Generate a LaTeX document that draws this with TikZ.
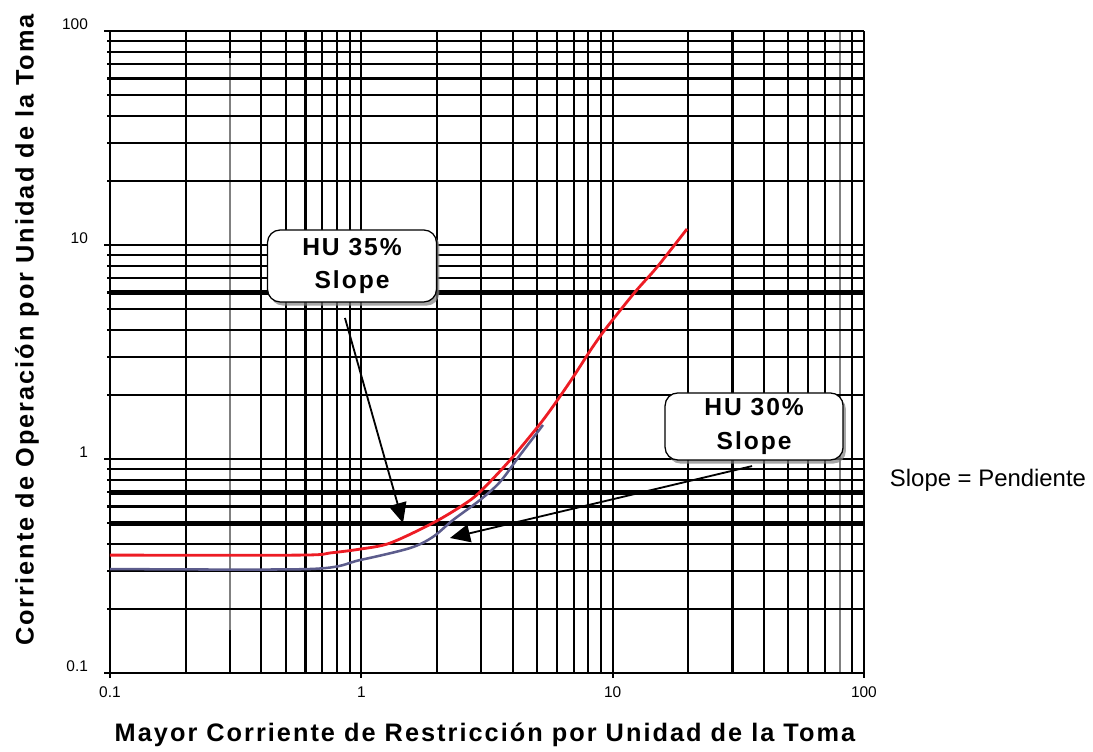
\documentclass[tikz,border=0pt]{standalone}
\usepackage{fontspec}
\setmainfont{Liberation Sans}
\newfontfamily\espaciada[LetterSpace=8]{Liberation Sans}
\usetikzlibrary{arrows.meta,shadows}
\definecolor{R}{RGB}{237, 28, 36}
\definecolor{B}{RGB}{92, 92, 140}
\tikzset{
  malla/.style={line width=1.5pt},
  gruesa/.style={line width=3.5pt},
  cuadro/.style={draw, fill=white, rounded corners=9pt, line width=0.9pt,
    drop shadow={shadow xshift=0.7mm, shadow yshift=-0.9mm, opacity=0.7},
    align=center, inner sep=0pt, font=\espaciada\bfseries\fontsize{17.5}{24}\selectfont},
  flecha/.style={-{Triangle[length=5mm,width=4.5mm]}, line width=1.3pt},
  eje/.style={font=\fontsize{11}{13}\selectfont},
  titulo/.style={font=\espaciada\bfseries\fontsize{18}{22}\selectfont}
}

\begin{document}
\begin{tikzpicture}[x=6.2825cm, y=5.35cm]
   	% Area total (una decada = 1)
   	\useasboundingbox (-0.4377,-0.3645) rectangle (3.9116,3.1449);

	% Lineas verticales de la malla
   	\foreach \d in {0,1,2}{
   		\foreach \m in {1,...,9}{
   			\draw[malla] ({\d+log10(\m)},0) -- ({\d+log10(\m)},3);
   		}
   	}
   	\draw[malla] (3,0) -- (3,3);
   	% lineas grises en 0.3 y 80
   	\draw[malla, color=gray] ({log10(3)},0) -- ({log10(3)},3);
   	\draw[malla, color=gray] ({2+log10(8)},0) -- ({2+log10(8)},3);
   	\draw[malla] ({log10(3)},3) -- ({log10(3)},2.874);
   	\draw[malla] ({log10(3)},0) -- ({log10(3)},0.2);

	% Lineas horizontales de la malla
   	\foreach \d in {0,1,2}{
   		\foreach \m in {1,...,9}{
   			\draw[malla] (-0.01,{\d+log10(\m)}) -- (3,{\d+log10(\m)});
   		}
   	}
   	\draw[malla] (-0.01,3) -- (3,3);

	% Lineas gruesas en 6, 0.7 y 0.5
   	\draw[gruesa] (0,{2+log10(0.6)}) -- (3,{2+log10(0.6)});
   	\draw[gruesa] (0,{1+log10(0.7)}) -- (3,{1+log10(0.7)});
   	\draw[gruesa] (0,{1+log10(0.5)}) -- (3,{1+log10(0.5)});

	% Marcas y numeros de los ejes
   	\foreach \d/\t in {0/0.1,1/1,2/10,3/100}{
   		\draw[malla] (\d,0) -- (\d,-0.025);
   		\draw[malla] (0,\d) -- (-0.022,\d);
   		\node[eje] (ex\d) at (\d,-0.089) {\t};
   		\node[eje, anchor=east] (ey\d) at (-0.068,\d+0.03) {\t};
   	}

	% Curva HU 30%
   	\draw[color=B, line width=1.8pt, line join=round] plot[smooth] coordinates {
   		(0,0.486) (0.796,0.486) (0.995,0.528) (1.194,0.584) (1.285,0.636)
   		(1.365,0.715) (1.472,0.808) (1.552,0.893) (1.632,1.019) (1.723,1.159)};

	% Curva HU 35%
   	\draw[color=R, line width=2pt, line join=round] plot[smooth] coordinates {
   		(0,0.551) (0.756,0.551) (0.875,0.561) (0.995,0.579) (1.114,0.607)
   		(1.285,0.701) (1.405,0.785) (1.472,0.846) (1.592,0.995) (1.723,1.182)
   		(1.830,1.360) (1.918,1.519) (1.978,1.617) (2.089,1.780) (2.177,1.897)
   		(2.296,2.075)};

	% Cuadros con texto
   	\node[cuadro, minimum width=4.225cm, minimum height=1.8cm] (hu35) at (0.963,1.902) {HU 35\%\\Slope};
   	\node[cuadro, minimum width=4.45cm, minimum height=1.675cm] (hu30) at (2.563,1.152) {HU 30\%\\Slope};

	% Flechas
   	\coordinate (s35) at (0.935,1.659);
   	\coordinate (p35) at (1.166,0.701);
   	\coordinate (s30) at (2.555,0.967);
   	\coordinate (p30) at (1.353,0.631);
   	\draw[flecha] (s35) -- (p35);
   	\draw[flecha] (s30) -- (p30);

	% Nota y titulos
   	\node[anchor=west, font=\fontsize{17}{20}\selectfont] (nota) at (3.084,0.902) {Slope = Pendiente};
   	\node[titulo] (tx) at (1.492,-0.290) {Mayor Corriente de Restricción por Unidad de la Toma};
   	\node[titulo, rotate=90] (ty) at (-0.330,1.603) {Corriente de Operación por Unidad de la Toma};
\end{tikzpicture}
\end{document}
